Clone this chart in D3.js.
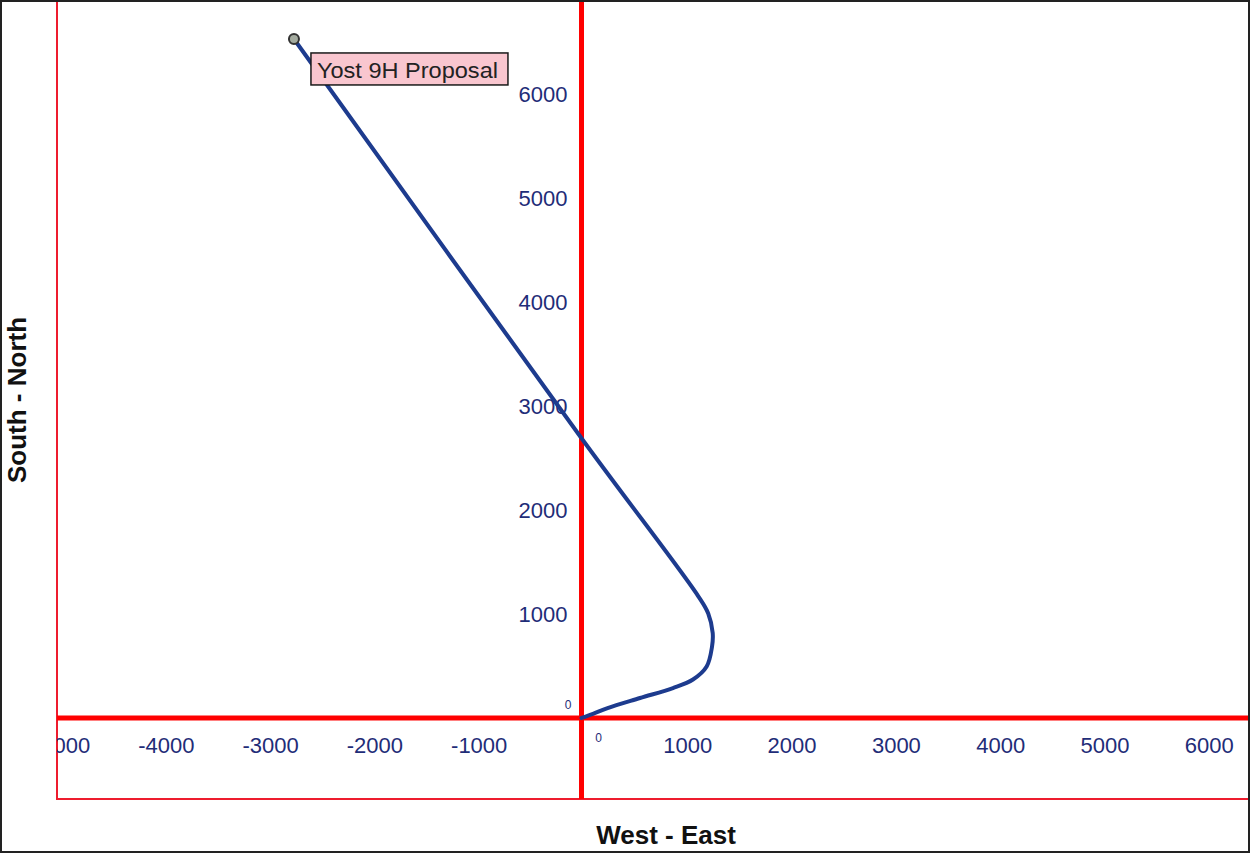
<!DOCTYPE html>
<html>
<head>
<meta charset="utf-8">
<script src="https://cdn.jsdelivr.net/npm/d3@7"></script>
<style>
  html, body { margin: 0; padding: 0; background: #fff; }
  svg { display: block; font-family: Arial, "Liberation Sans", sans-serif; }
</style>
</head>
<body>
<svg id="chart" width="1251" height="855"></svg>
<script>
// Plan view of the wellbore: offsets in feet from the surface location
const eastWest   = [0, 110, 250, 561, 877, 1069, 1200, 1251, 1258, 1215, 1120, 0, -2757];
const southNorth = [0,  40,  95, 192, 288,  370,  495,  683,  817, 1005, 1170, 2690, 6529];

const xTicks = [-5000, -4000, -3000, -2000, -1000, 1000, 2000, 3000, 4000, 5000, 6000];
const yTicks = [1000, 2000, 3000, 4000, 5000, 6000];
const wellName = "Yost 9H Proposal";

const svg = d3.select("#chart");
const W = 1251, H = 855;
const plot = { left: 57, right: 1249, top: 1, bottom: 799 };

// equal scale on both axes, origin at the surface location
const x = d3.scaleLinear().domain([-5029, 6400]).range([plot.left, plot.right]);
const y = d3.scaleLinear().domain([-779, 6894]).range([plot.bottom, plot.top]);

svg.append("rect").attr("width", W).attr("height", H).attr("fill", "#fff");

svg.append("defs").append("clipPath").attr("id", "plotClip")
  .append("rect")
  .attr("x", plot.left).attr("y", plot.top)
  .attr("width", plot.right - plot.left).attr("height", plot.bottom - plot.top);

// plot frame
svg.append("rect")
  .attr("x", plot.left).attr("y", plot.top)
  .attr("width", plot.right - plot.left).attr("height", plot.bottom - plot.top)
  .attr("fill", "none").attr("stroke", "#ee1c2e").attr("stroke-width", 2);

const inner = svg.append("g").attr("clip-path", "url(#plotClip)");

// zero axes
inner.append("line")
  .attr("x1", x(0)).attr("x2", x(0)).attr("y1", plot.top).attr("y2", plot.bottom)
  .attr("stroke", "#ff0000").attr("stroke-width", 5);
inner.append("line")
  .attr("x1", plot.left).attr("x2", plot.right).attr("y1", y(0)).attr("y2", y(0))
  .attr("stroke", "#ff0000").attr("stroke-width", 5);

const tickColor = "#1f2d78";

// East-West tick labels below the horizontal axis
inner.selectAll("text.xt").data(xTicks).join("text")
  .attr("class", "xt")
  .attr("x", d => x(d) + 2).attr("y", y(0) + 35)
  .attr("text-anchor", "middle")
  .attr("font-size", 22).attr("fill", tickColor)
  .text(d => d);
inner.append("text")
  .attr("x", x(0) + 17).attr("y", y(0) + 24)
  .attr("text-anchor", "middle").attr("font-size", 12).attr("fill", tickColor)
  .text("0");

// South-North tick labels left of the vertical axis
inner.selectAll("text.yt").data(yTicks).join("text")
  .attr("class", "yt")
  .attr("x", x(0) - 14).attr("y", d => y(d) + 8)
  .attr("text-anchor", "end")
  .attr("font-size", 22).attr("fill", tickColor)
  .text(d => d);
inner.append("text")
  .attr("x", x(0) - 10).attr("y", y(0) - 9)
  .attr("text-anchor", "end").attr("font-size", 12).attr("fill", tickColor)
  .text("0");

// well path
const pts = eastWest.map((e, i) => [e, southNorth[i]]);
const line = d3.line().x(d => x(d[0])).y(d => y(d[1])).curve(d3.curveCatmullRom.alpha(0.5));
inner.append("path")
  .datum(pts)
  .attr("d", line)
  .attr("fill", "none")
  .attr("stroke", "#1d3b8e")
  .attr("stroke-width", 4)
  .attr("stroke-linejoin", "round")
  .attr("stroke-linecap", "round");

// bottom-hole marker and its label
const end = pts[pts.length - 1];
inner.append("circle")
  .attr("cx", x(end[0])).attr("cy", y(end[1])).attr("r", 5)
  .attr("fill", "#a4ab9f").attr("stroke", "#333").attr("stroke-width", 2);

const lbl = inner.append("g").attr("transform", `translate(${x(end[0]) + 17},${y(end[1]) + 14})`);
lbl.append("rect")
  .attr("x", 0).attr("y", 0).attr("width", 197).attr("height", 32)
  .attr("fill", "#f9c6cf").attr("stroke", "#1a1a1a").attr("stroke-width", 1.5);
lbl.append("text")
  .attr("x", 6).attr("y", 25)
  .attr("font-size", 22).attr("fill", "#222")
  .attr("textLength", 181).attr("lengthAdjust", "spacingAndGlyphs")
  .text(wellName);

// axis titles
svg.append("text")
  .attr("transform", `translate(26,${(plot.top + plot.bottom) / 2}) rotate(-90)`)
  .attr("text-anchor", "middle")
  .attr("font-size", 26).attr("font-weight", "bold").attr("fill", "#111")
  .text("South - North");
svg.append("text")
  .attr("x", 666).attr("y", 844)
  .attr("text-anchor", "middle")
  .attr("font-size", 26).attr("font-weight", "bold").attr("fill", "#111")
  .text("West - East");

// outer border
svg.append("rect")
  .attr("x", 1).attr("y", 1).attr("width", W - 3).attr("height", H - 4)
  .attr("fill", "none").attr("stroke", "#222").attr("stroke-width", 2);
</script>
</body>
</html>
